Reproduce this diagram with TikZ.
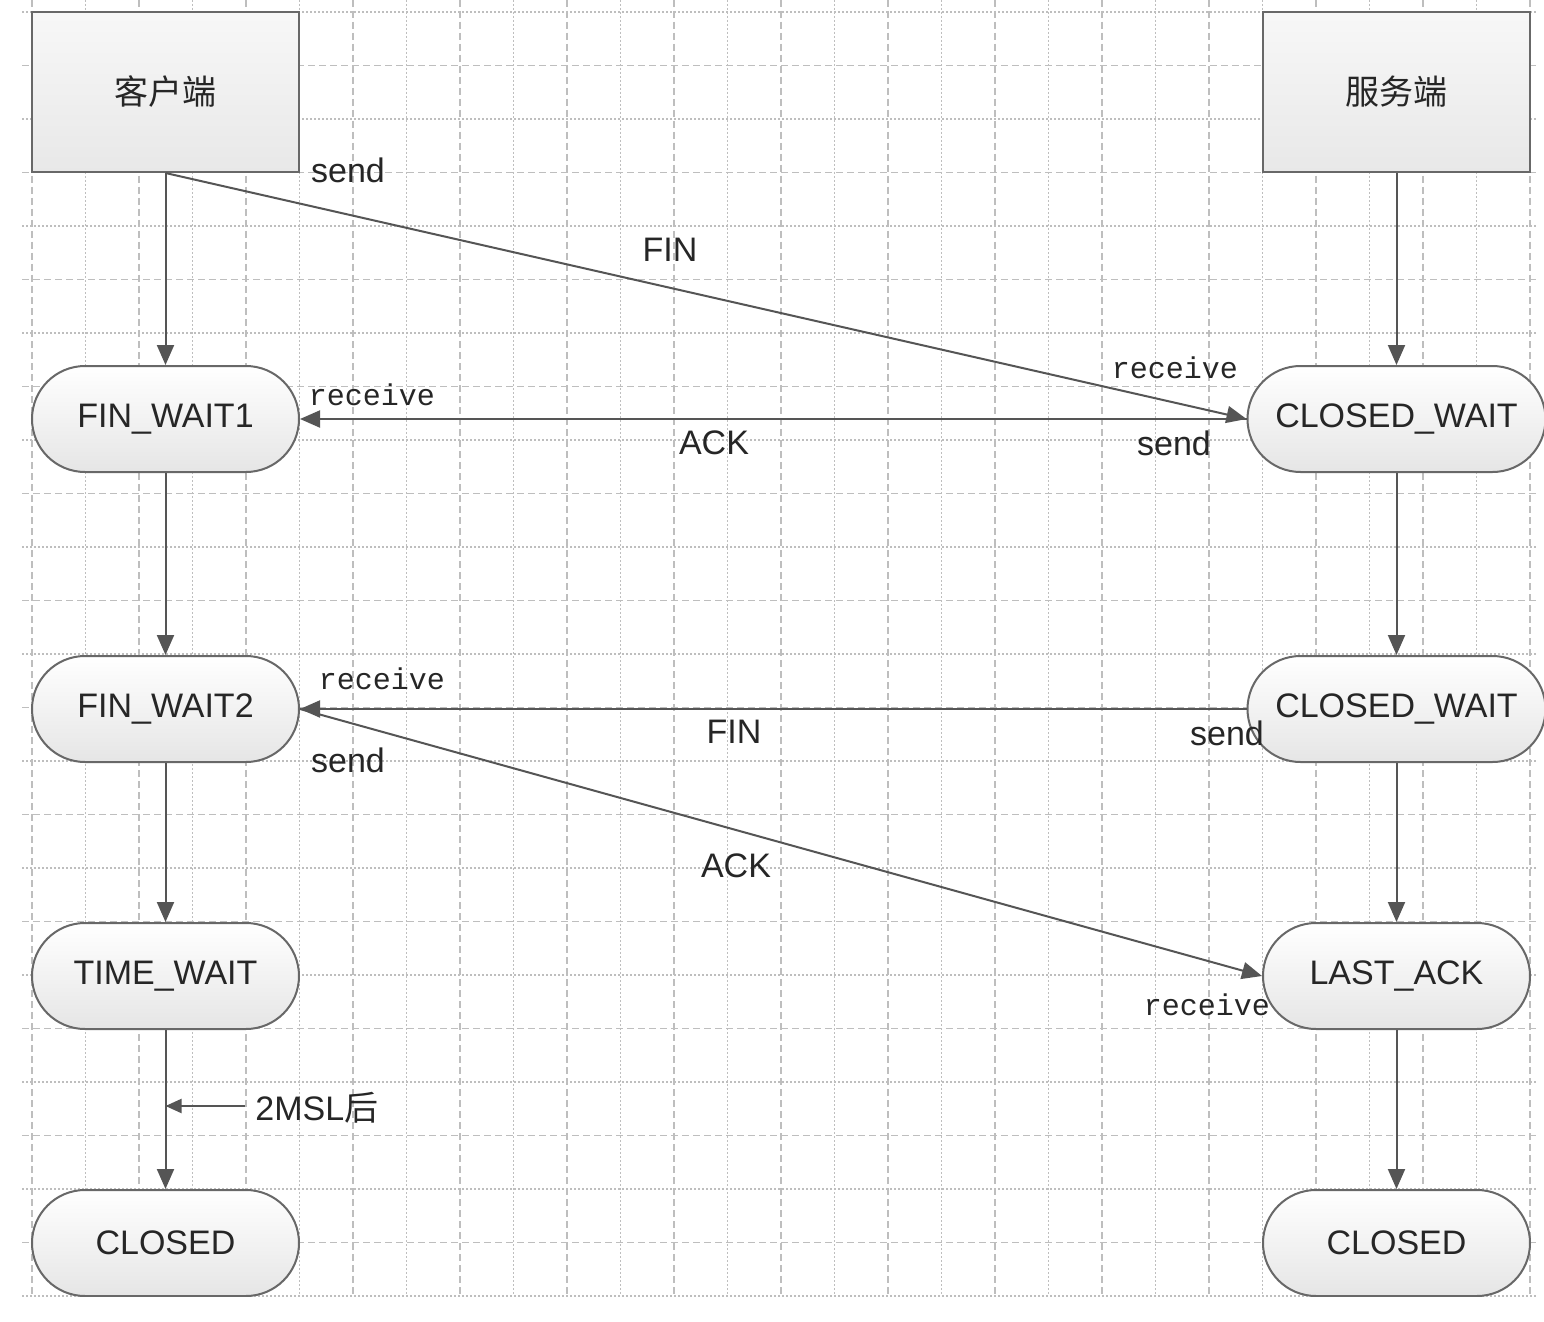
\documentclass[tikz,border=0pt]{standalone}
\usepackage{fontspec}
\setmainfont{Liberation Sans}
\newfontfamily\monof{Liberation Mono}
\newfontfamily\cjk{Noto Sans CJK SC}
\usetikzlibrary{arrows.meta}
\definecolor{gridc}{HTML}{BEBEBE}
\definecolor{linec}{HTML}{555555}
\definecolor{txtc}{HTML}{262626}
\definecolor{borderc}{HTML}{686868}
\begin{document}
\begin{tikzpicture}[x=0.5pt,y=-0.5pt,
  txt/.style={text=txtc,font=\fontsize{17}{20}\selectfont,inner sep=0pt},
  mono/.style={text=txtc,font=\monof\fontsize{15}{18}\selectfont,inner sep=0pt},
  actor/.style={draw=borderc,line width=1pt,top color=white!97!black,bottom color=white!91!black,minimum width=133.5pt,minimum height=80pt,inner sep=0pt,text=txtc,font=\cjk\fontsize{17}{20}\selectfont},
  state/.style={draw=borderc,line width=1pt,top color=white,bottom color=white!90!black,rounded corners=26.5pt,minimum width=133.5pt,minimum height=53pt,inner sep=0pt,text=txtc,font=\fontsize{17}{20}\selectfont},
  arr/.style={draw=linec,line width=1pt,-{Triangle[length=10pt,width=8.5pt]}},
  smallarr/.style={draw=linec,line width=1pt,-{Triangle[length=8pt,width=7pt]}},
  gmaj/.style={draw=gridc,line width=0.8pt,dash pattern=on 3.5pt off 2pt},
  gmin/.style={draw=gridc,line width=0.8pt,dash pattern=on 1pt off 1pt}]
\useasboundingbox (0,0) rectangle (1544,1322);
\fill[white] (0,0) rectangle (1544,1322);
\begin{scope}
\clip (0,0) rectangle (1544,1296);
% grid
\foreach \i in {0,2,...,28} \draw[gmaj] ({32+53.5*\i},0) -- ({32+53.5*\i},1296);
\foreach \i in {1,3,...,27} \draw[gmin] ({32+53.5*\i},0) -- ({32+53.5*\i},1296);
\foreach \j in {1,3,...,23} \draw[gmaj] (22,{12+53.5*\j}) -- (1536,{12+53.5*\j});
\foreach \j in {0,2,...,24} \draw[gmin] (22,{12+53.5*\j}) -- (1536,{12+53.5*\j});
% nodes
\node[actor] (client) at (165.5,92) {客户端};
\node[actor] (server) at (1396.5,92) {服务端};
\node[state] (fw1) at (165.5,419) {FIN\_WAIT1};
\node[state,minimum width=149pt] (cw1) at (1396.5,419) {CLOSED\_WAIT};
\node[state] (fw2) at (165.5,709) {FIN\_WAIT2};
\node[state,minimum width=149pt] (cw2) at (1396.5,709) {CLOSED\_WAIT};
\node[state] (tw) at (165.5,976) {TIME\_WAIT};
\node[state] (la) at (1396.5,976) {LAST\_ACK};
\node[state] (cl) at (165.5,1243) {CLOSED};
\node[state] (cr) at (1396.5,1243) {CLOSED};
% connectors
\draw[arr] (client.south) -- (fw1.north);
\draw[arr] (server.south) -- (cw1.north);
\draw[arr] (fw1.south) -- (fw2.north);
\draw[arr] (cw1.south) -- (cw2.north);
\draw[arr] (fw2.south) -- (tw.north);
\draw[arr] (cw2.south) -- (la.north);
\draw[arr] (tw.south) -- (cl.north);
\draw[arr] (la.south) -- (cr.north);
\draw[arr] (client.south) -- (cw1.west);
\draw[arr] (cw1.west) -- (fw1.east);
\draw[arr] (cw2.west) -- (fw2.east);
\draw[arr] (fw2.east) -- (la.west);
% labels
\node[txt] (l1) at (348,170) {send};
\node[txt] (l2) at (670,250) {FIN};
\node[mono] (l3) at (1175,368) {receive};
\node[mono] (l4) at (372,395) {receive};
\node[txt] (l5) at (714,443) {ACK};
\node[txt] (l6) at (1174,443) {send};
\node[mono] (l7) at (382,679) {receive};
\node[txt] (l8) at (734,732) {FIN};
\node[txt] (l9) at (1227,733) {send};
\node[txt] (l10) at (348,760) {send};
\node[txt] (l11) at (736,866) {ACK};
\node[mono] (l12) at (1207,1005) {receive};
\node[txt,anchor=west] (msl) at (255,1108) {2MSL{\cjk 后}};
\draw[smallarr] ([xshift=-5pt,yshift=1pt]msl.west) -- ([yshift=1pt]msl.west -| tw.south);
\end{scope}
\end{tikzpicture}
\end{document}
